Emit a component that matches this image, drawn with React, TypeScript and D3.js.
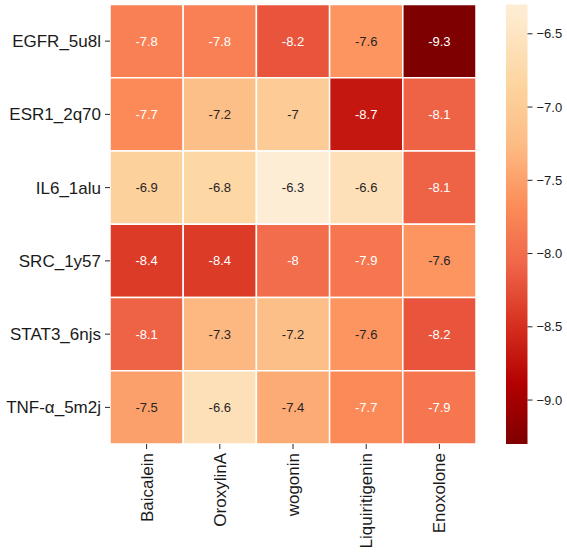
import React from "react";
import * as d3 from "d3";

const rowLabels = ["EGFR_5u8l", "ESR1_2q70", "IL6_1alu", "SRC_1y57", "STAT3_6njs", "TNF-α_5m2j"];
const colLabels = ["Baicalein", "OroxylinA", "wogonin", "Liquiritigenin", "Enoxolone"];

const egfr = [-7.8, -7.8, -8.2, -7.6, -9.3];
const esr1 = [-7.7, -7.2, -7, -8.7, -8.1];
const il6 = [-6.9, -6.8, -6.3, -6.6, -8.1];
const src = [-8.4, -8.4, -8, -7.9, -7.6];
const stat3 = [-8.1, -7.3, -7.2, -7.6, -8.2];
const tnf = [-7.5, -6.6, -7.4, -7.7, -7.9];
const values = [egfr, esr1, il6, src, stat3, tnf];

const colorbarTicks = [-6.5, -7.0, -7.5, -8.0, -8.5, -9.0];
const vmin = -9.3;
const vmax = -6.3;

// OrRd palette (ColorBrewer, 9 classes), reversed so low energies are dark red
const orrd = ["#fff7ec", "#fee8c8", "#fdd49e", "#fdbb84", "#fc8d59", "#ef6548", "#d7301f", "#b30000", "#7f0000"];

const W = 567;
const H = 554;
const FONT = "'Liberation Sans', Arial, Helvetica, sans-serif";

const grid = { left: 110, right: 476, top: 4.5, bottom: 444 };
const cbar = { left: 506, right: 527.5, top: 4.5, bottom: 444 };

function luminance(c: string) {
  const rgb = d3.rgb(c);
  const lin = [rgb.r, rgb.g, rgb.b].map((v) => {
    const s = v / 255;
    return s <= 0.03928 ? s / 12.92 : Math.pow((s + 0.055) / 1.055, 2.4);
  });
  return 0.2126 * lin[0] + 0.7152 * lin[1] + 0.0722 * lin[2];
}

export default function App() {
  const x = d3.scaleBand<string>().domain(colLabels).range([grid.left, grid.right]);
  const y = d3.scaleBand<string>().domain(rowLabels).range([grid.top, grid.bottom]);

  // value -> position along the palette (lightest end starts slightly into the ramp)
  const tScale = d3.scaleLinear().domain([vmax, vmin]).range([0.08, 1]).clamp(true);
  const palette = d3
    .scaleLinear<string>()
    .domain(orrd.map((_, i) => i / (orrd.length - 1)))
    .range(orrd)
    .interpolate(d3.interpolateRgb);
  const color = (v: number) => palette(tScale(v));

  const cy = d3.scaleLinear().domain([vmax, vmin]).range([cbar.top, cbar.bottom]);
  const stops = d3.range(0, 101).map((i) => i / 100);
  const stopValue = d3.scaleLinear().domain([0, 1]).range([vmax, vmin]);

  return (
    <svg
      width={W}
      height={H}
      viewBox={`0 0 ${W} ${H}`}
      style={{ position: "absolute", left: 0, top: 0, background: "#fff" }}
      fontFamily={FONT}
    >
      <defs>
        <linearGradient id="cbarGrad" x1="0" y1="0" x2="0" y2="1">
          {stops.map((s) => (
            <stop key={s} offset={s} stopColor={color(stopValue(s))} />
          ))}
        </linearGradient>
      </defs>

      {/* cells */}
      {values.map((row, ri) =>
        row.map((v, ci) => {
          const fill = color(v);
          const textColor = luminance(fill) > 0.408 ? "#262626" : "#ffffff";
          const cx = (x(colLabels[ci]) as number) + x.bandwidth() / 2;
          const cyy = (y(rowLabels[ri]) as number) + y.bandwidth() / 2;
          return (
            <g key={`${ri}-${ci}`}>
              <rect
                x={x(colLabels[ci])}
                y={y(rowLabels[ri])}
                width={x.bandwidth()}
                height={y.bandwidth()}
                fill={fill}
                stroke="#ffffff"
                strokeWidth={1.5}
              />
              <text
                x={cx}
                y={cyy}
                dy="0.35em"
                textAnchor="middle"
                fontSize={13}
                fill={textColor}
              >
                {String(v)}
              </text>
            </g>
          );
        })
      )}

      {/* row axis */}
      {rowLabels.map((r) => {
        const yy = (y(r) as number) + y.bandwidth() / 2;
        return (
          <g key={r}>
            <line x1={grid.left - 5} x2={grid.left} y1={yy} y2={yy} stroke="#262626" strokeWidth={1} />
            <text x={grid.left - 9} y={yy} dy="0.35em" textAnchor="end" fontSize={17} fill="#1a1a1a">
              {r}
            </text>
          </g>
        );
      })}

      {/* column axis */}
      {colLabels.map((c) => {
        const xx = (x(c) as number) + x.bandwidth() / 2;
        return (
          <g key={c}>
            <line x1={xx} x2={xx} y1={grid.bottom} y2={grid.bottom + 5} stroke="#262626" strokeWidth={1} />
            <text
              transform={`translate(${xx},${grid.bottom + 9}) rotate(-90)`}
              dy="0.35em"
              textAnchor="end"
              fontSize={17}
              fill="#1a1a1a"
            >
              {c}
            </text>
          </g>
        );
      })}

      {/* colorbar */}
      <rect
        x={cbar.left}
        y={cbar.top}
        width={cbar.right - cbar.left}
        height={cbar.bottom - cbar.top}
        fill="url(#cbarGrad)"
      />
      {colorbarTicks.map((t) => (
        <g key={t}>
          <line x1={cbar.right} x2={cbar.right + 5} y1={cy(t)} y2={cy(t)} stroke="#262626" strokeWidth={1} />
          <text x={cbar.right + 9} y={cy(t)} dy="0.35em" fontSize={13} fill="#1a1a1a">
            {d3.format(".1f")(t).replace("-", "\u2212")}
          </text>
        </g>
      ))}
    </svg>
  );
}
